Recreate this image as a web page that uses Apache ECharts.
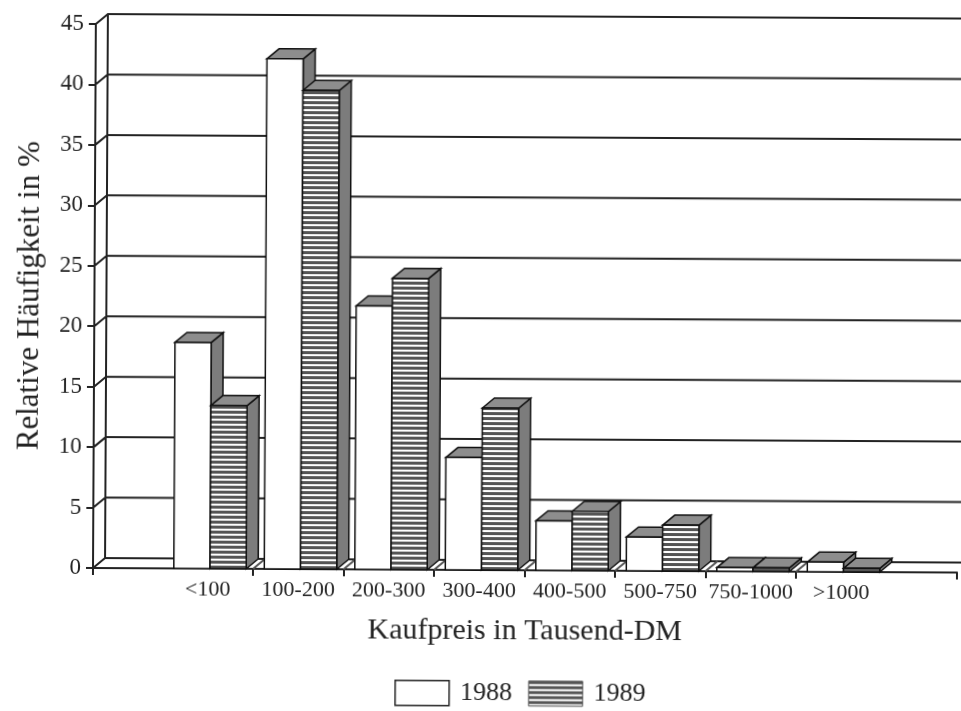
<!DOCTYPE html>
<html>
<head>
<meta charset="utf-8">
<script src="https://cdn.jsdelivr.net/npm/echarts@6/dist/echarts.min.js"></script>
<style>
  html, body { margin: 0; padding: 0; background: #ffffff; }
  #chart { width: 961px; height: 711px; transform: rotate(0.3deg); transform-origin: 93px 568px; }
</style>
</head>
<body>
<div id="chart"></div>
<script>
// Kaufpreisklassen (Tausend DM)
const categories = ['<100', '100-200', '200-300', '300-400', '400-500', '500-750', '750-1000', '>1000'];
// Relative Häufigkeit in %
const values1988 = [18.7, 42.2, 21.8, 9.3, 4.1, 2.8, 0.3, 0.8];
const values1989 = [13.5, 39.6, 24.1, 13.4, 4.9, 3.8, 0.3, 0.3];
const yTicks = [0, 5, 10, 15, 20, 25, 30, 35, 40, 45];
const seriesNames = ['1988', '1989'];

const FONT = "'Liberation Serif', 'Times New Roman', serif";
const INK = '#232323';
const DEPTH_X = 12, DEPTH_Y = -10;   // oblique depth of walls and columns
const X_MIN = -0.768, X_MAX = 8.779;  // axis extent in category units
const SLOT = [0.125, 0.525], BAR_W = 0.4;

// horizontal stripe fill for the 1989 columns
function stripePattern() {
  const c = document.createElement('canvas');
  c.width = 8; c.height = 5;
  const g = c.getContext('2d');
  g.fillStyle = '#ffffff'; g.fillRect(0, 0, 8, 5);
  g.fillStyle = '#555555'; g.fillRect(0, 0, 8, 3);
  return { image: c, repeat: 'repeat' };
}
const STRIPES = stripePattern();

// back wall, side wall and floor
function renderWalls(params, api) {
  const v = api.value(0);
  const p = api.coord([X_MIN, v]);
  const W = api.getWidth();
  const children = [{
    type: 'polyline',
    shape: { points: [[p[0], p[1]], [p[0] + DEPTH_X, p[1] + DEPTH_Y], [W, p[1] + DEPTH_Y]] },
    style: { stroke: INK, lineWidth: 2, fill: null }
  }];
  if (params.dataIndex === 0) {
    const top = api.coord([X_MIN, yTicks[yTicks.length - 1]]);
    children.push({
      type: 'line',
      shape: { x1: p[0] + DEPTH_X, y1: p[1] + DEPTH_Y, x2: top[0] + DEPTH_X, y2: top[1] + DEPTH_Y },
      style: { stroke: INK, lineWidth: 2 }
    });
    for (let k = 1; k < categories.length; k++) {
      const b = api.coord([k, 0]);
      children.push({
        type: 'line',
        shape: { x1: b[0], y1: b[1], x2: b[0] + DEPTH_X, y2: b[1] + DEPTH_Y },
        style: { stroke: '#555', lineWidth: 2 }
      });
    }
  }
  return { type: 'group', children: children };
}

function makeBarRenderer(slot, frontFill) {
  return function (params, api) {
    const i = api.value(0);
    const v = api.value(1);
    const a = api.coord([i + SLOT[slot], 0]);
    const b = api.coord([i + SLOT[slot] + BAR_W, v]);
    const x0 = a[0], x1 = b[0], y0 = a[1], y1 = b[1];
    const stroke = { stroke: '#111', lineWidth: 1.5, lineJoin: 'miter' };
    return {
      type: 'group',
      children: [
        {
          type: 'polygon',
          shape: { points: [[x1, y1], [x1 + DEPTH_X, y1 + DEPTH_Y], [x1 + DEPTH_X, y0 + DEPTH_Y], [x1, y0]] },
          style: Object.assign({ fill: '#7c7c7c' }, stroke)
        },
        {
          type: 'polygon',
          shape: { points: [[x0, y1], [x0 + DEPTH_X, y1 + DEPTH_Y], [x1 + DEPTH_X, y1 + DEPTH_Y], [x1, y1]] },
          style: Object.assign({ fill: '#8d8d8d' }, stroke)
        },
        {
          type: 'rect',
          shape: { x: x0, y: y1, width: x1 - x0, height: y0 - y1 },
          style: Object.assign({ fill: frontFill }, stroke)
        }
      ]
    };
  };
}

const chart = echarts.init(document.getElementById('chart'), null, { renderer: 'canvas' });
chart.setOption({
  backgroundColor: '#ffffff',
  animation: false,
  grid: { left: 93, right: 4, top: 24, bottom: 143, containLabel: false, outerBoundsMode: 'none' },
  legend: {
    left: 395, top: 678, padding: 0,
    itemWidth: 54, itemHeight: 25, itemGap: 16,
    icon: 'rect',
    selectedMode: false,
    textStyle: { fontFamily: FONT, fontSize: 26, color: INK, padding: [0, 0, 0, 6] },
    data: [
      { name: seriesNames[0], itemStyle: { color: '#ffffff', borderColor: '#222', borderWidth: 1.5 } },
      { name: seriesNames[1], itemStyle: { color: STRIPES, borderColor: '#555', borderWidth: 1 } }
    ]
  },
  xAxis: {
    type: 'value',
    min: X_MIN, max: X_MAX,
    name: 'Kaufpreis in Tausend-DM',
    nameLocation: 'middle', nameGap: 46,
    nameTextStyle: { fontFamily: FONT, fontSize: 30, color: INK },
    axisLine: { show: true, onZero: false, lineStyle: { color: INK, width: 2 } },
    axisTick: { show: true, length: 7, lineStyle: { color: INK, width: 2 },
      customValues: [X_MIN, 1, 2, 3, 4, 5, 6, 7, X_MAX] },
    axisLabel: {
      show: true, margin: 10,
      fontFamily: FONT, fontSize: 22, color: INK,
      customValues: categories.map((c, k) => k + 0.5),
      formatter: (val) => categories[Math.floor(val)]
    },
    splitLine: { show: false }
  },
  yAxis: {
    type: 'value', min: 0, max: 45, interval: 5,
    name: 'Relative Häufigkeit in %',
    nameLocation: 'middle', nameGap: 49,
    nameTextStyle: { fontFamily: FONT, fontSize: 31, color: INK },
    axisLine: { show: true, onZero: false, lineStyle: { color: INK, width: 2 } },
    axisTick: { show: true, length: 7, lineStyle: { color: INK, width: 2 } },
    axisLabel: { margin: 12, fontFamily: FONT, fontSize: 23, color: INK },
    splitLine: { show: false }
  },
  series: [
    {
      type: 'custom', name: 'walls', z: 1, silent: true,
      renderItem: renderWalls,
      data: yTicks.map(v => [v])
    },
    {
      type: 'custom', name: seriesNames[0], z: 2,
      renderItem: makeBarRenderer(0, '#ffffff'),
      itemStyle: { color: '#ffffff' },
      data: values1988.map((v, k) => [k, v])
    },
    {
      type: 'custom', name: seriesNames[1], z: 3,
      renderItem: makeBarRenderer(1, STRIPES),
      itemStyle: { color: '#666' },
      data: values1989.map((v, k) => [k, v])
    }
  ]
});
</script>
</body>
</html>
